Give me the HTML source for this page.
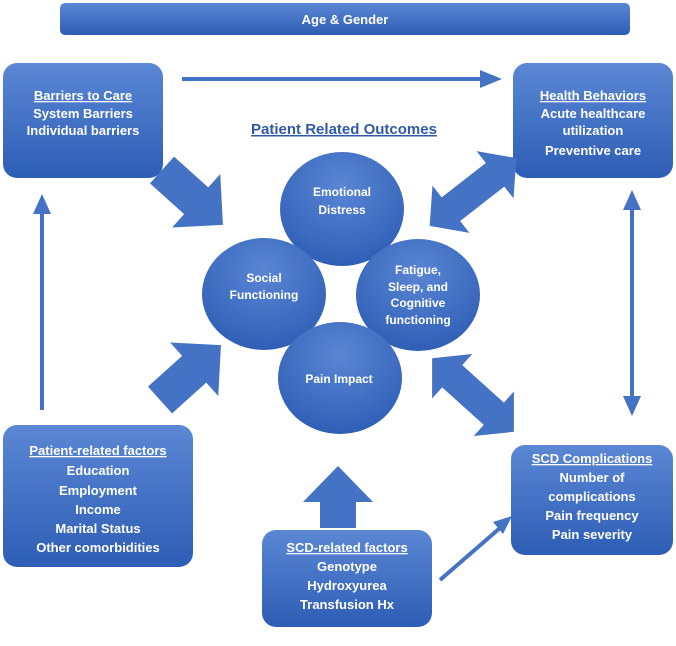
<!DOCTYPE html>
<html><head><style>
body{margin:0;background:#fff}
svg text{font-family:"Liberation Sans",sans-serif;fill:#fff;font-weight:bold}
</style></head><body>
<svg width="676" height="641" viewBox="0 0 676 641">
<defs>
<linearGradient id="g" x1="0" y1="0" x2="0" y2="1"><stop offset="0" stop-color="#5b87d4"/><stop offset="1" stop-color="#2d5db5"/></linearGradient>
<radialGradient id="c" cx="0.5" cy="0.3" r="0.7"><stop offset="0" stop-color="#5a86d3"/><stop offset="1" stop-color="#2f5fb6"/></radialGradient>
</defs>
<rect x="60" y="3" width="570" height="32" rx="5" fill="url(#g)"/>
<text x="345" y="24" font-size="13" text-anchor="middle">Age &amp; Gender</text>

<rect x="3" y="63" width="160" height="115" rx="14" fill="url(#g)"/>
<text x="83" y="100" font-size="13" text-anchor="middle" text-decoration="underline">Barriers to Care</text>
<text x="83" y="118" font-size="13" text-anchor="middle" font-weight="normal">System Barriers</text>
<text x="83" y="135" font-size="13" text-anchor="middle" font-weight="normal">Individual barriers</text>

<rect x="513" y="63" width="160" height="115" rx="14" fill="url(#g)"/>
<text x="593" y="100" font-size="13" text-anchor="middle" text-decoration="underline">Health Behaviors</text>
<text x="593" y="118" font-size="13" text-anchor="middle" font-weight="normal">Acute healthcare</text>
<text x="593" y="135" font-size="13" text-anchor="middle" font-weight="normal">utilization</text>
<text x="593" y="155" font-size="13" text-anchor="middle" font-weight="normal">Preventive care</text>

<rect x="3" y="425" width="190" height="142" rx="14" fill="url(#g)"/>
<text x="98" y="455" font-size="13" text-anchor="middle" text-decoration="underline">Patient-related factors</text>
<text x="98" y="475" font-size="13" text-anchor="middle" font-weight="normal">Education</text>
<text x="98" y="495" font-size="13" text-anchor="middle" font-weight="normal">Employment</text>
<text x="98" y="514" font-size="13" text-anchor="middle" font-weight="normal">Income</text>
<text x="98" y="533" font-size="13" text-anchor="middle" font-weight="normal">Marital Status</text>
<text x="98" y="552" font-size="13" text-anchor="middle" font-weight="normal">Other comorbidities</text>

<rect x="511" y="445" width="162" height="110" rx="14" fill="url(#g)"/>
<text x="592" y="463" font-size="13" text-anchor="middle" text-decoration="underline">SCD Complications</text>
<text x="592" y="482" font-size="13" text-anchor="middle" font-weight="normal">Number of</text>
<text x="592" y="501" font-size="13" text-anchor="middle" font-weight="normal">complications</text>
<text x="592" y="520" font-size="13" text-anchor="middle" font-weight="normal">Pain frequency</text>
<text x="592" y="539" font-size="13" text-anchor="middle" font-weight="normal">Pain severity</text>

<rect x="262" y="530" width="170" height="97" rx="14" fill="url(#g)"/>
<text x="347" y="552" font-size="13" text-anchor="middle" text-decoration="underline">SCD-related factors</text>
<text x="347" y="571" font-size="13" text-anchor="middle" font-weight="normal">Genotype</text>
<text x="347" y="590" font-size="13" text-anchor="middle" font-weight="normal">Hydroxyurea</text>
<text x="347" y="609" font-size="13" text-anchor="middle" font-weight="normal">Transfusion Hx</text>

<text x="344" y="134" font-size="15" text-anchor="middle" text-decoration="underline" style="fill:#2f5aa8">Patient Related Outcomes</text>

<g fill="#4472c4">
<rect x="182" y="77" width="300" height="4"/>
<polygon points="480,70 502,79 480,88"/>
<rect x="40" y="212" width="4" height="198"/>
<polygon points="33,214 42,194 51,214"/>
<rect x="630" y="208" width="4" height="190"/>
<polygon points="623,210 632,190 641,210"/>
<polygon points="623,396 632,416 641,396"/>
<line x1="440" y1="580" x2="500" y2="528" stroke="#4472c4" stroke-width="4"/>
<polygon points="493,522 512,516 503,534"/>
<g transform="translate(162,170) rotate(42)"><polygon points="0,-18 46,-18 46,-36 82,0 46,36 46,18 0,18"/></g>
<g transform="translate(160,400) rotate(-42)"><polygon points="0,-18 46,-18 46,-36 82,0 46,36 46,18 0,18"/></g>
<g transform="translate(338,528) rotate(-90)"><polygon points="0,-18 26,-18 26,-35 62,0 26,35 26,18 0,18"/></g>
<g transform="translate(473,192) rotate(-38)"><polygon points="-55,0 -28,-30 -28,-15 28,-15 28,-30 55,0 28,30 28,15 -28,15 -28,30"/></g>
<g transform="translate(473,395) rotate(42)"><polygon points="-55,0 -28,-30 -28,-15 28,-15 28,-30 55,0 28,30 28,15 -28,15 -28,30"/></g>
</g>

<ellipse cx="342" cy="209" rx="62" ry="57" fill="url(#c)"/>
<ellipse cx="264" cy="294" rx="62" ry="56" fill="url(#c)"/>
<ellipse cx="418" cy="295" rx="62" ry="56" fill="url(#c)"/>
<ellipse cx="340" cy="378" rx="62" ry="56" fill="url(#c)"/>
<text x="342" y="196" font-size="12" text-anchor="middle">Emotional</text>
<text x="342" y="214" font-size="12" text-anchor="middle">Distress</text>
<text x="264" y="282" font-size="12" text-anchor="middle">Social</text>
<text x="264" y="299" font-size="12" text-anchor="middle">Functioning</text>
<text x="418" y="274" font-size="12" text-anchor="middle">Fatigue,</text>
<text x="418" y="291" font-size="12" text-anchor="middle">Sleep, and</text>
<text x="418" y="307" font-size="12" text-anchor="middle">Cognitive</text>
<text x="418" y="324" font-size="12" text-anchor="middle">functioning</text>
<text x="339" y="383" font-size="12" text-anchor="middle">Pain Impact</text>
</svg>
</body></html>
